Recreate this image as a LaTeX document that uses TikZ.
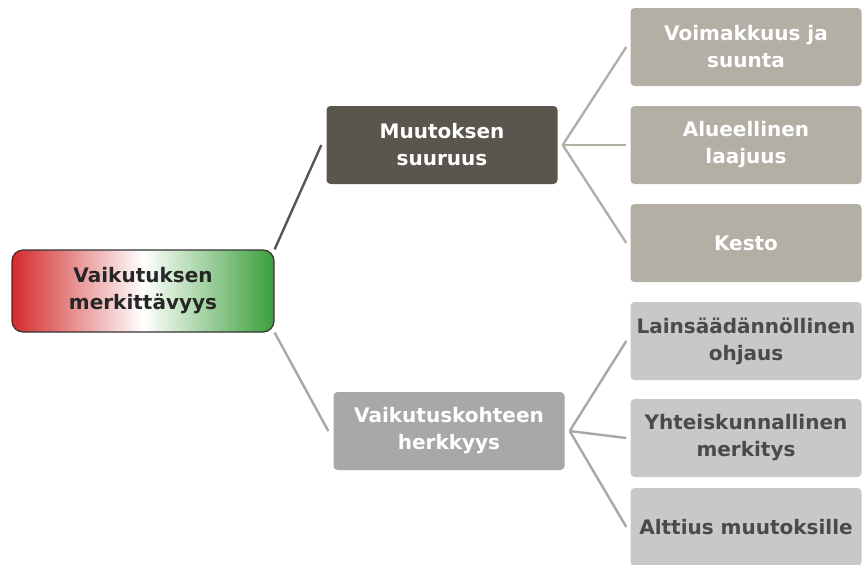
\documentclass[tikz,border=0pt]{standalone}
\usepackage{fontspec}
\setmainfont{DejaVu Sans}
\usetikzlibrary{positioning}
\definecolor{darkbrown}{HTML}{5A554D}
\definecolor{beige}{HTML}{B4AFA5}
\definecolor{midgray}{HTML}{A8A8A8}
\definecolor{lightgray}{HTML}{C8C8C8}
\definecolor{textgray}{HTML}{4A4A4A}
\definecolor{redend}{HTML}{D42B2B}
\definecolor{greenend}{HTML}{3A9F3A}
\begin{document}
\begin{tikzpicture}[
    x=1pt, y=-1pt,
    box/.style={rectangle, rounded corners=4pt, minimum width=231pt, minimum height=78pt,
        align=center, font=\fontsize{20}{27}\selectfont\bfseries, inner sep=0pt},
    leaf/.style={box, fill=beige, text=white},
    leafb/.style={box, fill=lightgray, text=textgray},
    link/.style={line width=2.4pt},
]
    \useasboundingbox (0,0) rectangle (865,565);

    % Root
    \node[box, minimum width=262pt, minimum height=82pt, rounded corners=11pt,
        draw=black!80, line width=1.2pt, left color=redend, right color=greenend,
        middle color=white, text=black!85] (root) at (143,291) {Vaikutuksen\\merkittävyys};

    % Middle level
    \node[box, fill=darkbrown, text=white] (size) at (442,145) {Muutoksen\\suuruus};
    \node[box, fill=midgray, text=white] (sens) at (449,431) {Vaikutuskohteen\\herkkyys};

    % Right column, upper
    \node[leaf] (strength) at (746,47) {Voimakkuus ja\\suunta};
    \node[leaf] (area) at (746,145) {Alueellinen\\laajuus};
    \node[leaf] (dur) at (746,243) {Kesto};

    % Right column, lower
    \node[leafb] (law) at (746,341) {Lainsäädännöllinen\\ohjaus};
    \node[leafb] (soc) at (746,438) {Yhteiskunnallinen\\merkitys};
    \node[leafb] (expo) at (746,527) {Alttius muutoksille};

    % Links
    \draw[link, darkbrown] (root.north east) -- ([xshift=-5pt]size.west);
    \draw[link, midgray] (root.south east) -- ([xshift=-5pt]sens.west);
    \foreach \n in {strength, area, dur}
        \draw[link, beige] ([xshift=5pt]size.east) -- ([xshift=-4pt]\n.west);
    \foreach \n in {law, soc, expo}
        \draw[link, midgray] ([xshift=5pt]sens.east) -- ([xshift=-4pt]\n.west);
\end{tikzpicture}
\end{document}
